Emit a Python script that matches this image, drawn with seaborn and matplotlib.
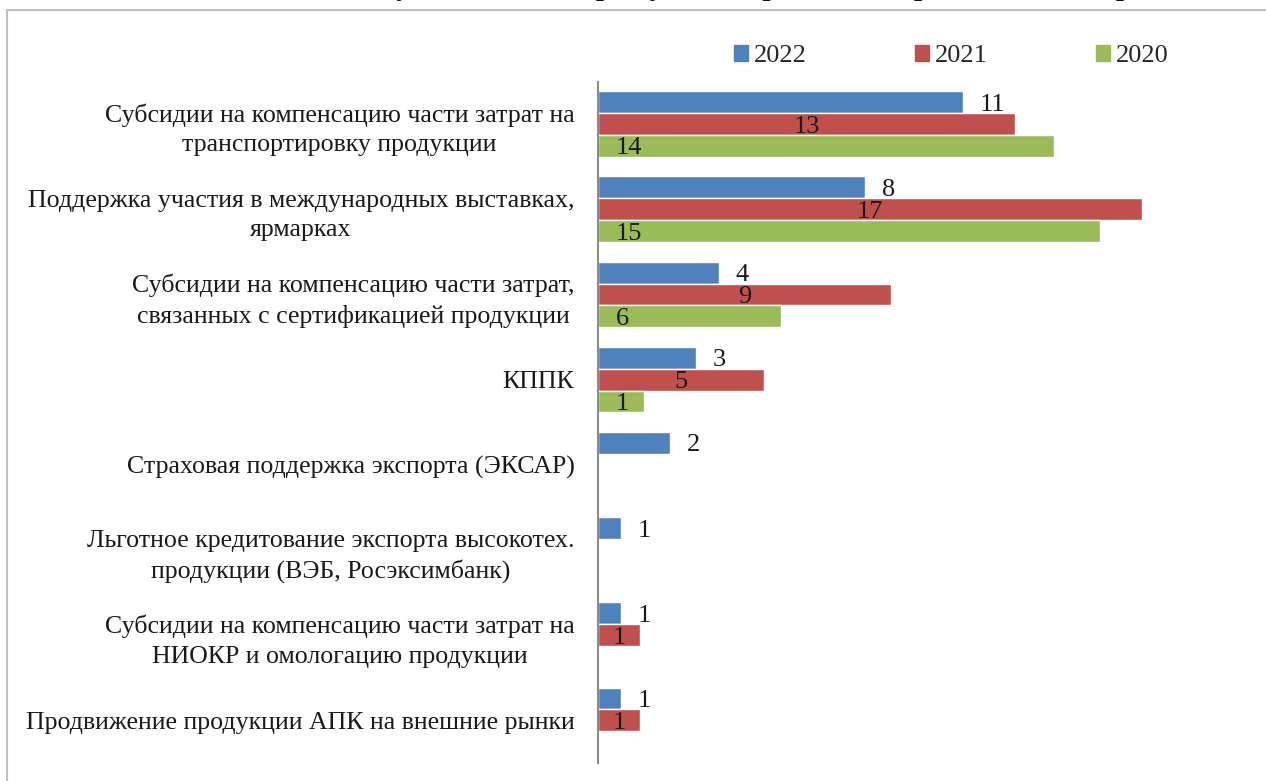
import numpy as np
import pandas as pd
import matplotlib
matplotlib.use("Agg")
import matplotlib.pyplot as plt
from matplotlib.patches import Rectangle
import seaborn as sns

# data (bar lengths; labels show rounded values)
categories = [
    "Субсидии на компенсацию части затрат на\nтранспортировку продукции",
    "Поддержка участия в международных выставках,\nярмарках",
    "Субсидии на компенсацию части затрат,\nсвязанных с сертификацией продукции",
    "КППК",
    "Страховая поддержка экспорта (ЭКСАР)",
    "Льготное кредитование экспорта высокотех.\nпродукции (ВЭБ, Росэксимбанк)",
    "Субсидии на компенсацию части затрат на\nНИОКР и омологацию продукции",
    "Продвижение продукции АПК на внешние рынки",
]
years = ["2022", "2021", "2020"]
values_2022 = [11.2, 8.2, 3.7, 3.0, 2.2, 0.7, 0.7, 0.7]
values_2021 = [12.8, 16.7, 9.0, 5.1, np.nan, np.nan, 1.3, 1.3]
values_2020 = [14.0, 15.4, 5.6, 1.4, np.nan, np.nan, np.nan, np.nan]
colors = ["#4F81BD", "#C0504D", "#9BBB59"]

df = pd.DataFrame({
    "category": categories * 3,
    "year": [y for y in years for _ in categories],
    "value": values_2022 + values_2021 + values_2020,
})

sns.set_theme(style="white")
plt.rcParams["font.family"] = ["Liberation Serif", "DejaVu Serif"]

W, H = 1266, 781
fig = plt.figure(figsize=(W / 100, H / 100), dpi=100)
ax = fig.add_axes([598 / W, 1 - 763 / H, (1250 - 598) / W, (763 - 81.5) / H])

sns.barplot(data=df, y="category", x="value", hue="year", hue_order=years,
            order=categories, palette=colors, orient="y", width=0.77,
            saturation=1, ax=ax, legend=False, errorbar=None)

ax.set_xlim(0, 20)
ax.set_xlabel("")
ax.set_ylabel("")
ax.set_xticks([])
for s in ["top", "right", "bottom"]:
    ax.spines[s].set_visible(False)
ax.spines["left"].set_color("#8c8c8c")
ax.spines["left"].set_linewidth(1.5)
ax.tick_params(axis="y", length=0, pad=17, labelsize=18.6)
for lbl in ax.get_yticklabels():
    lbl.set_multialignment("center")
    lbl.set_linespacing(1.42)
    lbl.set_color("#1a1a1a")

# value labels: 2022 outside end, 2021 centered, 2020 inside base
fs = 19
for i, cont in enumerate(ax.containers):
    vals = [v for v in cont.datavalues]
    labels = ["" if np.isnan(v) else f"{v:.0f}" for v in vals]
    if i == 0:
        texts = ax.bar_label(cont, labels=labels, padding=12, fontsize=fs, color="#1a1a1a")
    elif i == 1:
        texts = ax.bar_label(cont, labels=labels, label_type="center", fontsize=fs, color="#1a1a1a")
    else:
        texts = []
        for bar, lab in zip(cont, labels):
            if lab:
                texts.append(ax.annotate(lab, (0, bar.get_y() + bar.get_height() / 2),
                                         xytext=(13, 0), textcoords="offset points",
                                         ha="left", fontsize=fs, color="#1a1a1a"))
    for t in texts:
        t.set_va("center_baseline")

# legend along the top
handles = [Rectangle((0, 0), 1, 1, color=c) for c in colors]
fig.legend(handles, years, loc="center", ncol=3, frameon=False,
           bbox_to_anchor=(951 / W, 1 - 56 / H), fontsize=fs,
           handlelength=0.55, handleheight=0.55, handletextpad=0.2,
           columnspacing=4.1)

# chart frame and clipped title
fig.patches.append(Rectangle((7 / W, -0.05), 1.1, 1 - 10 / H + 0.05,
                             transform=fig.transFigure, fill=False,
                             edgecolor="#c0c0c0", linewidth=1.5))
fig.text(0.52, 1 + 5 / H, "Число компаний, получивших поддержку, по направлениям развития экспорта, %",
         ha="center", va="baseline", fontsize=21, fontweight="bold", color="#111111")

fig.savefig("out.png", dpi=100)
